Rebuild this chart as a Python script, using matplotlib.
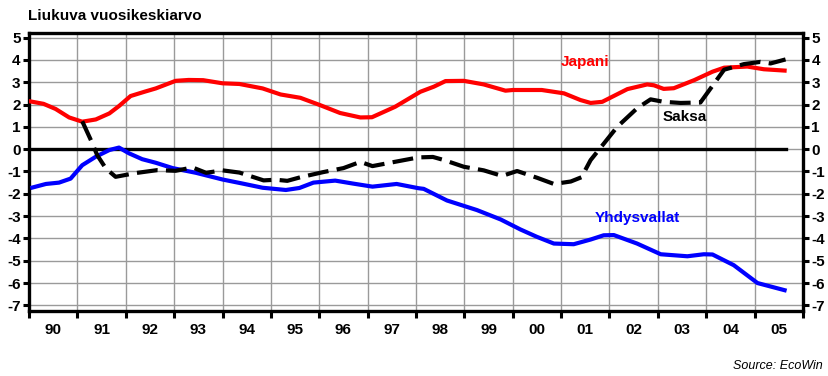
import matplotlib
matplotlib.use('Agg')
import matplotlib.pyplot as plt
from matplotlib.ticker import FixedLocator, NullFormatter

plt.rcParams['font.family'] = ['Liberation Sans', 'DejaVu Sans']
plt.rcParams['axes.unicode_minus'] = False

# Rolling annual average (%), by decimal year
japani_t = [1990.0, 1990.3, 1990.55, 1990.83, 1991.1, 1991.38, 1991.66, 1991.86, 1992.1, 1992.4,
            1992.62, 1993.03, 1993.3, 1993.6, 1994.0, 1994.35, 1994.83, 1995.2, 1995.61, 1996.02,
            1996.43, 1996.85, 1997.09, 1997.57, 1998.09, 1998.37, 1998.61, 1998.99, 1999.4, 1999.85,
            2000.0, 2000.6, 2001.06, 2001.4, 2001.61, 2001.85, 2002.37, 2002.78, 2002.92, 2003.12,
            2003.33, 2003.75, 2004.13, 2004.37, 2004.85, 2005.19, 2005.62]
japani_v = [2.15, 2.03, 1.80, 1.42, 1.23, 1.33, 1.60, 1.93, 2.38, 2.58,
            2.72, 3.06, 3.10, 3.09, 2.95, 2.92, 2.72, 2.45, 2.30, 1.97,
            1.62, 1.42, 1.43, 1.90, 2.57, 2.80, 3.05, 3.06, 2.90, 2.62,
            2.65, 2.65, 2.50, 2.20, 2.07, 2.12, 2.69, 2.90, 2.86, 2.70,
            2.73, 3.09, 3.47, 3.65, 3.70, 3.58, 3.52]

saksa_t = [1991.1, 1991.28, 1991.41, 1991.59, 1991.79, 1992.21, 1992.65, 1993.03, 1993.38, 1993.66,
           1994.0, 1994.35, 1994.85, 1995.1, 1995.34, 1995.61, 1996.08, 1996.5, 1996.85, 1997.1,
           1997.56, 1998.05, 1998.35, 1998.58, 1998.99, 1999.4, 1999.78, 2000.09, 2000.5, 2000.85,
           2001.2, 2001.42, 2001.61, 2001.81, 2002.16, 2002.57, 2002.85, 2003.12, 2003.47, 2003.88,
           2004.09, 2004.37, 2004.78, 2005.12, 2005.33, 2005.64]
saksa_v = [1.25, 0.40, -0.27, -0.87, -1.24, -1.07, -0.94, -0.97, -0.82, -1.06,
           -0.95, -1.05, -1.40, -1.37, -1.42, -1.26, -1.03, -0.85, -0.57, -0.76,
           -0.57, -0.37, -0.35, -0.49, -0.79, -0.95, -1.20, -0.98, -1.28, -1.56,
           -1.45, -1.26, -0.49, 0.05, 1.00, 1.83, 2.23, 2.12, 2.07, 2.09,
           2.72, 3.56, 3.81, 3.91, 3.84, 4.02]

usa_t = [1990.07, 1990.35, 1990.62, 1990.86, 1991.1, 1991.38, 1991.66, 1991.86, 1992.07, 1992.34,
         1992.62, 1992.97, 1993.45, 1994.0, 1994.41, 1994.83, 1995.31, 1995.59, 1995.88, 1996.33,
         1996.69, 1997.1, 1997.6, 1998.05, 1998.16, 1998.64, 1999.26, 1999.75, 2000.16, 2000.5,
         2000.85, 2001.26, 2001.61, 2001.88, 2002.09, 2002.57, 2003.06, 2003.61, 2003.95, 2004.13,
         2004.57, 2005.06, 2005.62]
usa_v = [-1.72, -1.56, -1.50, -1.32, -0.72, -0.34, -0.04, 0.07, -0.19, -0.45,
         -0.61, -0.85, -1.06, -1.36, -1.54, -1.73, -1.83, -1.74, -1.50, -1.41,
         -1.54, -1.68, -1.56, -1.75, -1.78, -2.30, -2.73, -3.15, -3.60, -3.93,
         -4.23, -4.26, -4.05, -3.86, -3.85, -4.23, -4.71, -4.80, -4.71, -4.72,
         -5.20, -6.00, -6.32]

years = list(range(1990, 2006))
year_labels = ['90', '91', '92', '93', '94', '95', '96', '97', '98', '99',
               '00', '01', '02', '03', '04', '05']
y_ticks = list(range(-7, 6))


def main():
    fig = plt.figure(figsize=(8.29, 3.76), dpi=100)
    ax = fig.add_axes([0.035, 0.173, 0.9336, 0.739])

    ax.set_xlim(1990, 2006)
    ax.set_ylim(-7.25, 5.2)

    # grid at year boundaries and whole percents, year labels centred in between
    ax.xaxis.set_major_locator(FixedLocator(years + [2006]))
    ax.xaxis.set_major_formatter(NullFormatter())
    ax.xaxis.set_minor_locator(FixedLocator([y + 0.5 for y in years]))
    ax.set_xticklabels(year_labels, minor=True)
    ax.set_yticks(y_ticks)
    ax.grid(True, which='major', color='#9a9a9a', linewidth=1.0)
    ax.set_axisbelow(True)

    ax.tick_params(axis='x', which='major', length=5, width=2.2, direction='out')
    ax.tick_params(axis='x', which='minor', length=0, pad=9, labelsize=11)
    ax.tick_params(axis='y', length=4, width=2.2, direction='out', pad=2,
                   labelsize=11, left=True, right=True, labelleft=True, labelright=True)
    for lab in ax.get_xticklabels(minor=True):
        lab.set_fontweight('bold')
    for tick in ax.yaxis.get_major_ticks():
        tick.label1.set_fontweight('bold')
        tick.label2.set_fontweight('bold')

    for s in ax.spines.values():
        s.set_linewidth(2.4)

    ax.plot([1990.05, 2005.65], [0, 0], color='black', linewidth=2.4, zorder=2)

    ax.plot(japani_t, japani_v, color='#ff0000', linewidth=3.0, zorder=3)
    ax.plot(usa_t, usa_v, color='#0000ff', linewidth=3.0, zorder=3)
    ax.plot(saksa_t, saksa_v, color='black', linewidth=3.0, dashes=(5, 2), zorder=4)

    ax.text(2001.0, 3.9, 'Japani', color='#ff0000', fontsize=11, fontweight='bold',
            ha='left', va='center')
    ax.text(2003.56, 1.43, 'Saksa', color='black', fontsize=11, fontweight='bold',
            ha='center', va='center')
    ax.text(2002.57, -3.1, 'Yhdysvallat', color='#0000ff', fontsize=11, fontweight='bold',
            ha='center', va='center')

    fig.text(0.034, 0.958, 'Liukuva vuosikeskiarvo', fontsize=11, fontweight='bold',
             ha='left', va='center')
    fig.text(0.993, 0.027, 'Source: EcoWin', fontsize=9, style='italic',
             ha='right', va='center')

    fig.savefig('out.png', dpi=100)


if __name__ == '__main__':
    main()
